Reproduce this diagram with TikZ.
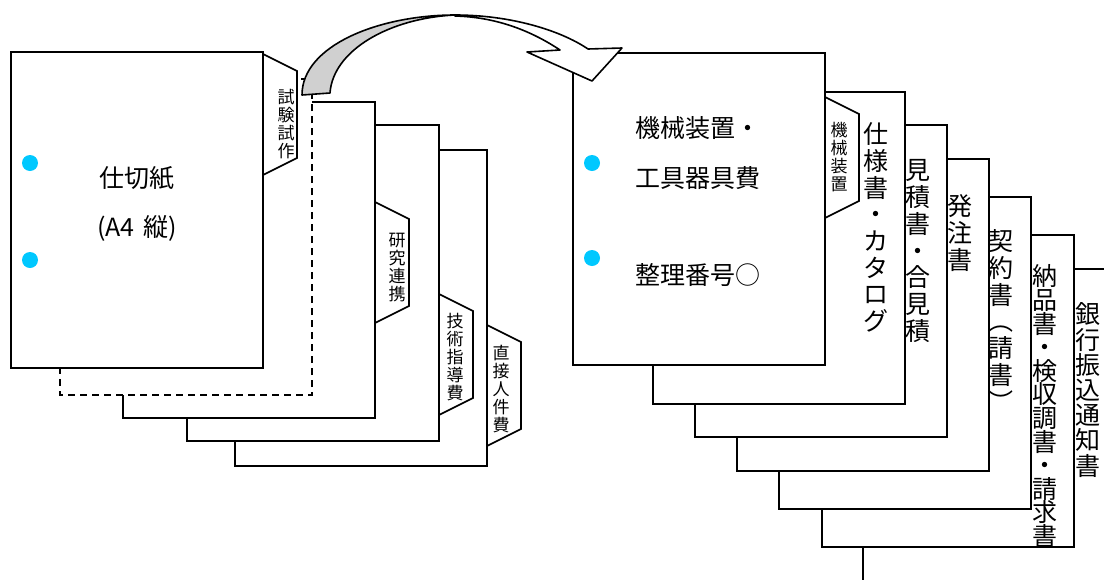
\documentclass[tikz,border=0pt]{standalone}
\usepackage{fontspec}
\setmainfont{Noto Sans CJK JP}
\usepackage{tikz}

\definecolor{punchhole}{RGB}{0,200,255}
\definecolor{arrowback}{RGB}{208,208,208}

\begin{document}
\begin{tikzpicture}[x=1pt,y=-1pt,line width=1.6pt,
	sheet/.style={draw=black,fill=white},
	dashsheet/.style={sheet,dash pattern=on 7pt off 5pt},
	hole/.style={fill=punchhole},
	tabtext/.style={font=\fontsize{17}{18}\selectfont,align=center,inner sep=0pt},
	bigtext/.style={font=\fontsize{25}{26}\selectfont,inner sep=0pt},
	striptext/.style={font={\fontsize{25}{#1}\selectfont\lineskiplimit=-20pt\relax},align=center,inner sep=0pt,anchor=north}]

\clip (0,0) rectangle (1104,579);

%% Sizes are in pixels of the 1104x579 page, y grows downwards
%% A sheet is drawn from its top left corner, a tab from the top of its root on the sheet edge

\def\TikZSheetW{252}
\def\TikZSheetH{316}
\def\TikZTabW{34}
\def\TikZTabS{17}
\def\TikZTabH{121}

\def\TikZSheet{%
		rectangle ++(\TikZSheetW,\TikZSheetH)
}

\def\TikZTab{%
		-- ++(\TikZTabW,\TikZTabS) -- ++(0,\TikZTabH-2*\TikZTabS) -- ++(-\TikZTabW,\TikZTabS) -- cycle
}


%% Left stack, back to front

\draw[sheet] (235,150) \TikZSheet ;
\draw[sheet] (487,325) \TikZTab ;

\draw[sheet] (187,125) \TikZSheet ;
\draw[sheet] (439,294) \TikZTab ;

\draw[sheet] (123,102) \TikZSheet ;
\draw[sheet] (375,202) \TikZTab ;

\draw[dashsheet] (60,79) \TikZSheet ;

\draw[sheet] (11,52) \TikZSheet ;
\draw[sheet] (263,54) \TikZTab ;

\fill[hole] (30,163) circle (8) ;
\fill[hole] (30,260) circle (8) ;

\node[bigtext] (divider) at (137,178) {仕切紙};
\node[bigtext] (dividersize) at (137,228) {(A4\,\,縦)};

\node[tabtext] (tabtrial) at (286,124) {試\\験\\試\\作};
\node[tabtext] (tabresearch) at (397,268) {研\\究\\連\\携};
\node[tabtext] (tabguidance) at (455,357) {技\\術\\指\\導\\費};
\node[tabtext] (tablabour) at (501,389) {直\\接\\人\\件\\費};


%% Right stack, back to front

\def\TikZSheetH{312}

\draw[sheet] (863,269) \TikZSheet ;
\draw[sheet] (822,235) \TikZSheet ;
\draw[sheet] (779,197) \TikZSheet ;
\draw[sheet] (737,159) \TikZSheet ;
\draw[sheet] (695,125) \TikZSheet ;
\draw[sheet] (653,92) \TikZSheet ;
\draw[sheet] (573,53) \TikZSheet ;
\draw[sheet] (825,97) \TikZTab ;

\fill[hole] (592,163) circle (8) ;
\fill[hole] (592,258) circle (8) ;

\node[bigtext,anchor=west] (machinetitle) at (635,128) {機械装置・};
\node[bigtext,anchor=west] (machinetitlebis) at (635,178) {工具器具費};
\node[bigtext,anchor=west] (filenumber) at (635,275) {整理番号○};

\node[tabtext] (tabmachine) at (839,157) {機\\械\\装\\置};

\node[striptext=26.7] (spec) at (876,122) {仕\\様\\書\\・\\カ\\タ\\ロ\\グ};
\node[striptext=26.7] (quote) at (918,159) {見\\積\\書\\・\\合\\見\\積};
\node[striptext=27] (order) at (960,194) {発\\注\\書};
\node[striptext=26.7] (contract) at (1001,229) {契\\約\\書\\︵\\請\\書\\︶};
\node[striptext=23.6] (delivery) at (1045,264) {納\\品\\書\\・\\検\\収\\調\\書\\・\\請\\求\\書};
\node[striptext=25.2] (transfer) at (1088,302) {銀\\行\\振\\込\\通\\知\\書};


%% Curved arrow from the left stack to the right stack

\draw[fill=arrowback,line join=round] (302,95) .. controls (302,45) and (380,15) .. (455,15)
		.. controls (390,18) and (333,50) .. (330,93) -- cycle ;
\draw[fill=white,line join=round] (455,15) .. controls (510,15) and (560,30) .. (588,49)
		-- (622,48) -- (592,81) -- (527,52) -- (560,50) .. controls (530,30) and (495,17) .. (455,16) -- cycle ;

\end{tikzpicture}
\end{document}
